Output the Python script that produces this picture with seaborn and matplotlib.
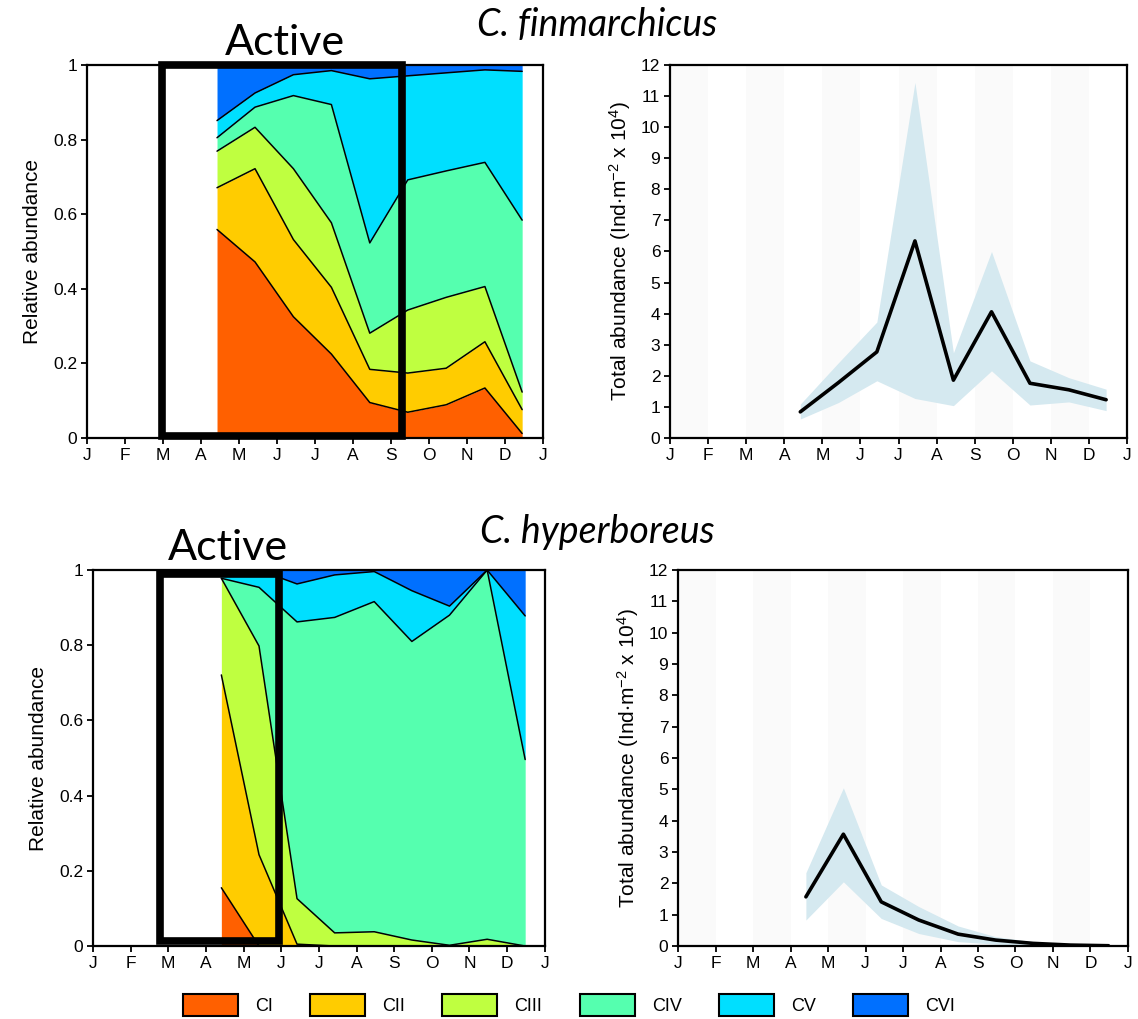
import numpy as np
import matplotlib
matplotlib.use('Agg')
import matplotlib.pyplot as plt
import seaborn as sns
from matplotlib.patches import Rectangle, Patch

# eixo x em meses (0 = 1 de janeiro)
meses = ['J', 'F', 'M', 'A', 'M', 'J', 'J', 'A', 'S', 'O', 'N', 'D', 'J']
estagios = ['CI', 'CII', 'CIII', 'CIV', 'CV', 'CVI']
cores = ['#ff6000', '#ffcc00', '#bfff40', '#55ffaf', '#00dfff', '#0070ff']

# --- C. finmarchicus ---
fin_tempo = [3.42, 4.42, 5.43, 6.43, 7.44, 8.44, 9.45, 10.47, 11.45]
fin_CI = [0.559, 0.472, 0.325, 0.225, 0.095, 0.069, 0.089, 0.134, 0.012]
fin_CII = [0.112, 0.250, 0.207, 0.179, 0.089, 0.105, 0.098, 0.124, 0.064]
fin_CIII = [0.098, 0.111, 0.190, 0.173, 0.097, 0.169, 0.190, 0.148, 0.047]
fin_CIV = [0.036, 0.054, 0.196, 0.317, 0.242, 0.349, 0.339, 0.333, 0.461]
fin_CV = [0.046, 0.038, 0.056, 0.091, 0.440, 0.279, 0.263, 0.248, 0.399]
fin_CVI = [0.149, 0.075, 0.026, 0.015, 0.037, 0.029, 0.021, 0.013, 0.017]
fin_media = [0.84, 1.78, 2.77, 6.34, 1.86, 4.06, 1.76, 1.55, 1.23]
fin_sup = [1.09, 2.42, 3.73, 11.44, 2.74, 6.00, 2.48, 1.94, 1.57]
fin_inf = [0.61, 1.14, 1.84, 1.27, 1.04, 2.16, 1.06, 1.16, 0.88]

# --- C. hyperboreus ---
hyp_tempo = [3.41, 4.41, 5.42, 6.42, 7.47, 8.47, 9.47, 10.47, 11.48]
hyp_CI = [0.155, 0, 0, 0, 0, 0, 0, 0, 0]
hyp_CII = [0.566, 0.243, 0.005, 0, 0, 0, 0, 0, 0]
hyp_CIII = [0.257, 0.555, 0.121, 0.035, 0.038, 0.016, 0.002, 0.018, 0.0]
hyp_CIV = [0.0, 0.156, 0.736, 0.839, 0.878, 0.794, 0.878, 0.982, 0.496]
hyp_CV = [0.022, 0.046, 0.101, 0.113, 0.080, 0.135, 0.024, 0.0, 0.382]
hyp_CVI = [0.0, 0.0, 0.037, 0.013, 0.004, 0.055, 0.096, 0.0, 0.122]
hyp_media = [1.57, 3.57, 1.41, 0.83, 0.38, 0.19, 0.085, 0.03, 0.01]
hyp_sup = [2.34, 5.05, 1.95, 1.26, 0.64, 0.30, 0.14, 0.05, 0.02]
hyp_inf = [0.83, 2.05, 0.88, 0.40, 0.14, 0.06, 0.02, 0.01, 0.0]

sns.set_style('ticks')
plt.rcParams['font.family'] = ['Liberation Sans', 'DejaVu Sans']
plt.rcParams['mathtext.default'] = 'regular'
plt.rcParams['text.color'] = 'black'
plt.rcParams['axes.labelcolor'] = 'black'


def arrumar_eixo(ax):
    ax.set_xlim(0, 12)
    ax.set_xticks(range(13))
    ax.set_xticklabels(meses)
    for lado in ax.spines.values():
        lado.set_linewidth(1.6)
        lado.set_color('black')
        lado.set_zorder(7)
    ax.tick_params(direction='out', length=4, width=1.3, labelsize=12.5, pad=3, colors='black')
    ax.set_xlabel('')


def painel_estagios(ax, tempo, fracoes, caixa, x_texto):
    tempo = np.array(tempo)
    base = np.zeros(len(tempo))
    topos = []
    for fr, cor in zip(fracoes, cores):
        topo = base + np.array(fr)
        ax.fill_between(tempo, base, topo, color=cor, lw=0, zorder=1)
        topos.append(topo)
        base = topo
    for topo in topos[:-1]:
        sns.lineplot(x=tempo, y=topo, color='black', lw=1.1, ax=ax,
                     sort=False, estimator=None, zorder=3)
    x0, y0, x1, y1 = caixa
    ax.add_patch(Rectangle((x0, y0), x1 - x0, y1 - y0, fill=False, ec='black',
                           lw=5.5, joinstyle='miter', zorder=6, clip_on=False))
    ax.text(x_texto, 1.027, 'Active', ha='center', va='baseline',
            fontsize=31, family='Lato')
    ax.set_ylim(0, 1)
    ax.set_yticks([0, 0.2, 0.4, 0.6, 0.8, 1])
    ax.set_yticklabels(['0', '0.2', '0.4', '0.6', '0.8', '1'])
    arrumar_eixo(ax)
    ax.set_ylabel('Relative abundance', fontsize=15, labelpad=8)


def painel_total(ax, tempo, media, inf, sup):
    for m in range(0, 12, 2):
        ax.axvspan(m, m + 1, color='#fafafa', lw=0, zorder=0)
    ax.fill_between(tempo, inf, sup, color='#d5e9f0', lw=0, zorder=1)
    sns.lineplot(x=tempo, y=media, color='black', lw=2.6, ax=ax,
                 sort=False, estimator=None, zorder=3)
    ax.set_ylim(0, 12)
    ax.set_yticks(range(13))
    arrumar_eixo(ax)
    ax.set_ylabel(r'Total abundance (Ind$\cdot$m$^{-2}$ x 10$^{4}$)', fontsize=15, labelpad=6)


fig = plt.figure(figsize=(11.38, 10.19), dpi=100)
ax1 = fig.add_axes([0.0765, 0.5702, 0.4007, 0.366])
ax2 = fig.add_axes([0.5888, 0.5702, 0.4016, 0.366])
ax3 = fig.add_axes([0.0817, 0.0716, 0.3970, 0.369])
ax4 = fig.add_axes([0.5958, 0.0716, 0.3954, 0.369])

painel_estagios(ax1, fin_tempo, [fin_CI, fin_CII, fin_CIII, fin_CIV, fin_CV, fin_CVI],
                (1.97, 0.005, 8.29, 0.999), 5.2)
painel_total(ax2, fin_tempo, fin_media, fin_inf, fin_sup)
painel_estagios(ax3, hyp_tempo, [hyp_CI, hyp_CII, hyp_CIII, hyp_CIV, hyp_CV, hyp_CVI],
                (1.77, 0.013, 4.95, 0.99), 3.58)
painel_total(ax4, hyp_tempo, hyp_media, hyp_inf, hyp_sup)

fig.text(0.5246, 0.9647, 'C. finmarchicus', ha='center', va='baseline',
         fontsize=27, style='italic', family='Lato')
fig.text(0.5246, 0.467, 'C. hyperboreus', ha='center', va='baseline',
         fontsize=27, style='italic', family='Lato')

alcas = [Patch(facecolor=c, edgecolor='black', lw=1.5) for c in cores]
fig.legend(alcas, estagios, ncol=6, loc='center', bbox_to_anchor=(0.5, 0.0137),
           frameon=False, fontsize=13, handlelength=3.05, handleheight=1.45,
           handletextpad=0.95, columnspacing=2.05, borderpad=0)

fig.savefig('out.png', dpi=100)
